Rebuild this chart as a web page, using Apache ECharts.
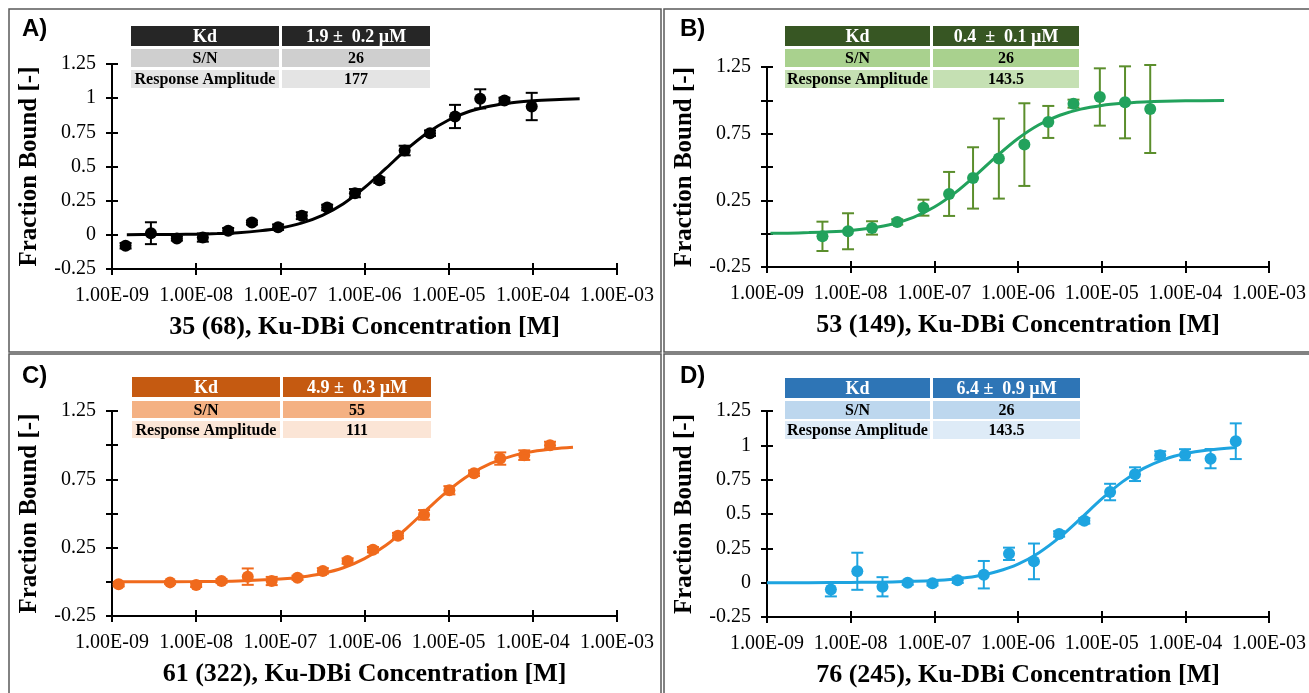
<!DOCTYPE html>
<html>
<head>
<meta charset="utf-8">
<script src="https://cdn.jsdelivr.net/npm/echarts@6/dist/echarts.min.js"></script>
<style>
  html, body { margin: 0; padding: 0; background: #fff; }
  #chart { width: 1309px; height: 693px; }
</style>
</head>
<body>
<div id="chart"></div>
<script>
// ---- data ----
const panelLetters = ['A)', 'B)', 'C)', 'D)'];
const xTitles = [
    '35 (68), Ku-DBi Concentration [M]',
    '53 (149), Ku-DBi Concentration [M]',
    '61 (322), Ku-DBi Concentration [M]',
    '76 (245), Ku-DBi Concentration [M]'
];
const yTitle = 'Fraction Bound [-]';
const tableLabels = ['Kd', 'S/N', 'Response Amplitude'];
const kdValues = ['1.9 \u00b1  0.2 \u00b5M', '0.4  \u00b1  0.1 \u00b5M', '4.9 \u00b1  0.3 \u00b5M', '6.4 \u00b1  0.9 \u00b5M'];
const snValues = ['26', '26', '55', '26'];
const ampValues = ['177', '143.5', '111', '143.5'];

// panel A
const concA = [1.45e-9, 2.9e-9, 5.9e-9, 1.2e-8, 2.4e-8, 4.6e-8, 9.4e-8, 1.8e-7, 3.6e-7, 7.7e-7, 1.5e-6, 3.0e-6, 6.0e-6, 1.19e-5, 2.37e-5, 4.6e-5, 9.7e-5];
const fracA = [-0.08, 0.012, -0.027, -0.02, 0.03, 0.09, 0.056, 0.14, 0.2, 0.305, 0.40, 0.617, 0.744, 0.866, 0.995, 0.983, 0.939];
const errA = [0.02, 0.08, 0.015, 0.03, 0.02, 0.015, 0.02, 0.025, 0.02, 0.03, 0.02, 0.035, 0.02, 0.085, 0.07, 0.02, 0.1];
const fitConcA = [1.5e-9, 3.16e-9, 5.62e-9, 1e-8, 1.78e-8, 3.16e-8, 5.62e-8, 1e-7, 1.78e-7, 3.16e-7, 5.62e-7, 1e-6, 1.78e-6, 3.16e-6, 5.62e-6, 1e-5, 1.78e-5, 3.16e-5, 5.62e-5, 1e-4, 1.78e-4, 3.6e-4];
const fitFracA = [0.001, 0.002, 0.003, 0.005, 0.009, 0.016, 0.029, 0.05, 0.086, 0.143, 0.228, 0.345, 0.484, 0.625, 0.747, 0.84, 0.904, 0.943, 0.967, 0.981, 0.989, 0.995];

// panel B
const concB = [4.6e-9, 9.3e-9, 1.8e-8, 3.6e-8, 7.4e-8, 1.5e-7, 2.9e-7, 5.9e-7, 1.19e-6, 2.3e-6, 4.6e-6, 9.5e-6, 1.9e-5, 3.8e-5];
const fracB = [-0.02, 0.018, 0.043, 0.088, 0.195, 0.298, 0.418, 0.563, 0.668, 0.838, 0.975, 1.025, 0.985, 0.935];
const errB = [0.11, 0.135, 0.05, 0.02, 0.06, 0.165, 0.23, 0.30, 0.31, 0.12, 0.03, 0.215, 0.27, 0.33];
const fitConcB = [1.1e-9, 1.78e-9, 3.16e-9, 5.62e-9, 1e-8, 1.78e-8, 3.16e-8, 5.62e-8, 1e-7, 1.78e-7, 3.16e-7, 5.62e-7, 1e-6, 1.78e-6, 3.16e-6, 5.62e-6, 1e-5, 1.78e-5, 3.16e-5, 5.62e-5, 1e-4, 2.9e-4];
const fitFracB = [0.003, 0.004, 0.008, 0.014, 0.024, 0.043, 0.073, 0.123, 0.2, 0.308, 0.441, 0.584, 0.714, 0.817, 0.888, 0.934, 0.962, 0.978, 0.987, 0.993, 0.996, 0.998];

// panel C
const concC = [1.2e-9, 4.9e-9, 1.0e-8, 2.0e-8, 4.1e-8, 7.9e-8, 1.6e-7, 3.2e-7, 6.3e-7, 1.26e-6, 2.5e-6, 5.1e-6, 1.02e-5, 2.0e-5, 4.1e-5, 7.9e-5, 1.6e-4];
const fracC = [-0.018, -0.004, -0.023, 0.006, 0.038, 0.006, 0.03, 0.08, 0.152, 0.235, 0.338, 0.49, 0.67, 0.795, 0.902, 0.927, 1.0];
const errC = [0.015, 0.01, 0.015, 0.015, 0.06, 0.03, 0.015, 0.02, 0.02, 0.02, 0.02, 0.035, 0.03, 0.02, 0.045, 0.035, 0.025];
const fitConcC = [1.05e-9, 3.16e-9, 1e-8, 3.16e-8, 1e-7, 1.78e-7, 3.16e-7, 5.62e-7, 1e-6, 1.78e-6, 3.16e-6, 5.62e-6, 1e-5, 1.78e-5, 3.16e-5, 5.62e-5, 1e-4, 1.78e-4, 3e-4];
const fitFracC = [0.0, 0.001, 0.002, 0.006, 0.02, 0.035, 0.061, 0.103, 0.17, 0.266, 0.392, 0.534, 0.671, 0.784, 0.866, 0.92, 0.953, 0.973, 0.984];

// panel D
const concD = [5.8e-9, 1.2e-8, 2.4e-8, 4.8e-8, 9.5e-8, 1.9e-7, 3.9e-7, 7.8e-7, 1.55e-6, 3.1e-6, 6.2e-6, 1.26e-5, 2.5e-5, 5.0e-5, 9.9e-5, 2.0e-4, 4.0e-4];
const fracD = [-0.05, 0.083, -0.03, 0.0, -0.005, 0.018, 0.058, 0.21, 0.155, 0.355, 0.45, 0.66, 0.79, 0.927, 0.932, 0.903, 1.03];
const errD = [0.05, 0.135, 0.07, 0.015, 0.015, 0.02, 0.1, 0.045, 0.13, 0.02, 0.02, 0.06, 0.05, 0.03, 0.04, 0.07, 0.13];
const fitConcD = [1e-9, 3.16e-9, 1e-8, 3.16e-8, 1e-7, 1.78e-7, 3.16e-7, 5.62e-7, 1e-6, 1.78e-6, 3.16e-6, 5.62e-6, 1e-5, 1.78e-5, 3.16e-5, 5.62e-5, 1e-4, 1.78e-4, 4.1e-4];
const fitFracD = [0.0, 0.0, 0.002, 0.005, 0.015, 0.027, 0.047, 0.081, 0.135, 0.218, 0.331, 0.468, 0.61, 0.736, 0.832, 0.898, 0.94, 0.965, 0.985];

// ---- layout and styles ----
const SERIF = 'Liberation Serif';
const panels = [
    { grid: { left: 112, top: 64, width: 505, height: 205 }, sparse: false,
      color: '#000000', errColor: '#000000',
      table: { x0: 131, x1: 430, split: 280, rows: [[26, 46], [49, 67], [70, 88]] },
      tableColors: ['#262626', '#cfcfcf', '#e4e4e4'],
      letter: [22, 17], frame: [9, 9, 652, 343] },
    { grid: { left: 767, top: 67, width: 504, height: 200 }, sparse: true,
      color: '#22a25c', errColor: '#5b8e2c',
      table: { x0: 785, x1: 1079, split: 931, rows: [[26, 46], [49, 67], [70, 88]] },
      tableColors: ['#375623', '#a9d18e', '#c5e0b3'],
      letter: [680, 17], frame: [664, 9, 660, 343] },
    { grid: { left: 112, top: 411, width: 505, height: 205 }, sparse: true,
      color: '#f06a1c', errColor: '#f06a1c',
      table: { x0: 132, x1: 431, split: 281, rows: [[377, 397], [401, 418], [421, 438]] },
      tableColors: ['#c55a11', '#f4b183', '#fbe5d6'],
      letter: [22, 364], frame: [9, 354, 652, 350] },
    { grid: { left: 767, top: 411, width: 504, height: 206 }, sparse: false,
      color: '#1ea4e0', errColor: '#1ea4e0',
      table: { x0: 785, x1: 1080, split: 931, rows: [[378, 398], [401, 419], [421, 439]] },
      tableColors: ['#2e75b6', '#bdd7ee', '#deebf7'],
      letter: [680, 364], frame: [664, 354, 660, 350] }
];

const pointData = [
    [concA, fracA, errA, fitConcA, fitFracA],
    [concB, fracB, errB, fitConcB, fitFracB],
    [concC, fracC, errC, fitConcC, fitFracC],
    [concD, fracD, errD, fitConcD, fitFracD]
];

function fmtSci(v) {
    const parts = v.toExponential(2).split('e');
    const n = parseInt(parts[1], 10);
    return parts[0] + 'E' + (n < 0 ? '-' : '+') + String(Math.abs(n)).padStart(2, '0');
}

const grids = [], xAxes = [], yAxes = [], series = [], graphics = [];

panels.forEach((p, k) => {
    grids.push(Object.assign({ containLabel: false }, p.grid));
    const baseX = {
        type: 'log', logBase: 10, min: 1e-9, max: 1e-3, splitNumber: 6,
        gridIndex: k, position: 'bottom', splitLine: { show: false },
        axisLine: { onZero: false, lineStyle: { color: '#000', width: 2 } }
    };
    // two copies of each axis: one with outward ticks, one with inward ticks -> crossing ticks
    xAxes.push(Object.assign({}, baseX, {
        axisTick: { inside: false, length: 6, lineStyle: { color: '#000', width: 2 } },
        axisLabel: { color: '#000', fontFamily: SERIF, fontSize: 20, margin: 17, formatter: fmtSci },
        name: xTitles[k], nameLocation: 'middle', nameGap: 45,
        nameTextStyle: { color: '#000', fontFamily: SERIF, fontSize: 26, fontWeight: 'bold' }
    }));
    xAxes.push(Object.assign({}, baseX, {
        axisLine: { show: false, onZero: false },
        axisTick: { inside: true, length: 6, lineStyle: { color: '#000', width: 2 } },
        axisLabel: { show: false }
    }));
    const baseY = {
        type: 'value', min: -0.25, max: 1.25, interval: 0.25, gridIndex: k, position: 'left',
        splitLine: { show: false },
        axisLine: { onZero: false, lineStyle: { color: '#000', width: 2 } }
    };
    yAxes.push(Object.assign({}, baseY, {
        axisTick: { inside: false, length: 6, lineStyle: { color: '#000', width: 2 } },
        axisLabel: {
            color: '#000', fontFamily: SERIF, fontSize: 20, margin: 16,
            formatter: function (v) {
                if (p.sparse && Math.round(v * 4) % 2 === 0) return '';
                return String(Math.round(v * 100) / 100);
            }
        },
        name: yTitle, nameLocation: 'middle', nameGap: 70, nameRotate: 90,
        nameTextStyle: { color: '#000', fontFamily: SERIF, fontSize: 25, fontWeight: 'bold' }
    }));
    yAxes.push(Object.assign({}, baseY, {
        axisLine: { show: false, onZero: false },
        axisTick: { inside: true, length: 6, lineStyle: { color: '#000', width: 2 } },
        axisLabel: { show: false }
    }));

    const [conc, frac, err, fitConc, fitFrac] = pointData[k];
    series.push({
        type: 'line', xAxisIndex: 2 * k, yAxisIndex: 2 * k, smooth: 0.3,
        showSymbol: false, silent: true,
        lineStyle: { color: p.color, width: 3 },
        data: fitConc.map((c, i) => [c, fitFrac[i]])
    });
    series.push({
        type: 'scatter', xAxisIndex: 2 * k, yAxisIndex: 2 * k, symbol: 'circle', symbolSize: 12,
        silent: true, itemStyle: { color: p.color, opacity: 1 },
        data: conc.map((c, i) => [c, frac[i]])
    });
    series.push({
        type: 'custom', xAxisIndex: 2 * k, yAxisIndex: 2 * k, silent: true,
        encode: { x: 0, y: [1, 2] },
        data: conc.map((c, i) => [c, frac[i] - err[i], frac[i] + err[i]]),
        renderItem: function (params, api) {
            const x = api.value(0);
            const lo = api.coord([x, api.value(1)]);
            const hi = api.coord([x, api.value(2)]);
            const w = 6;
            const st = { stroke: p.errColor, lineWidth: 2 };
            return {
                type: 'group',
                children: [
                    { type: 'line', shape: { x1: lo[0], y1: lo[1], x2: hi[0], y2: hi[1] }, style: st },
                    { type: 'line', shape: { x1: hi[0] - w, y1: hi[1], x2: hi[0] + w, y2: hi[1] }, style: st },
                    { type: 'line', shape: { x1: lo[0] - w, y1: lo[1], x2: lo[0] + w, y2: lo[1] }, style: st }
                ]
            };
        }
    });

    // frame
    const f = p.frame;
    graphics.push({
        type: 'rect', z: 50, silent: true,
        shape: { x: f[0], y: f[1], width: f[2], height: f[3] },
        style: { fill: 'none', stroke: '#5a5a5a', lineWidth: 1.5 }
    });
    // panel letter
    graphics.push({
        type: 'text', z: 60, x: p.letter[0], y: p.letter[1],
        style: { text: panelLetters[k], fill: '#000', font: 'bold 24px "Liberation Sans"', textVerticalAlign: 'top' }
    });
    // table
    const t = p.table;
    const vals = [kdValues[k], snValues[k], ampValues[k]];
    t.rows.forEach((r, ri) => {
        const h = r[1] - r[0];
        const textColor = ri === 0 ? '#fff' : '#000';
        const font = ri === 0 ? 'bold 18px "' + SERIF + '"' : 'bold 16px "' + SERIF + '"';
        graphics.push({
            type: 'rect', z: 60, shape: { x: t.x0, y: r[0], width: t.split - 1 - t.x0, height: h },
            style: { fill: p.tableColors[ri] }
        });
        graphics.push({
            type: 'rect', z: 60, shape: { x: t.split + 2, y: r[0], width: t.x1 - t.split - 2, height: h },
            style: { fill: p.tableColors[ri] }
        });
        graphics.push({
            type: 'text', z: 61, x: (t.x0 + t.split - 1) / 2, y: r[0] + h / 2 + 1,
            style: { text: tableLabels[ri], fill: textColor, font: font, textAlign: 'center', textVerticalAlign: 'middle' }
        });
        graphics.push({
            type: 'text', z: 61, x: (t.split + 2 + t.x1) / 2, y: r[0] + h / 2 + 1,
            style: { text: vals[ri], fill: textColor, font: font, textAlign: 'center', textVerticalAlign: 'middle' }
        });
    });
});

const chart = echarts.init(document.getElementById('chart'));
chart.setOption({
    animation: false,
    backgroundColor: '#fff',
    grid: grids,
    xAxis: xAxes,
    yAxis: yAxes,
    series: series,
    graphic: graphics
});

window.addEventListener('resize', function () {
    chart.resize();
});
</script>
</body>
</html>
